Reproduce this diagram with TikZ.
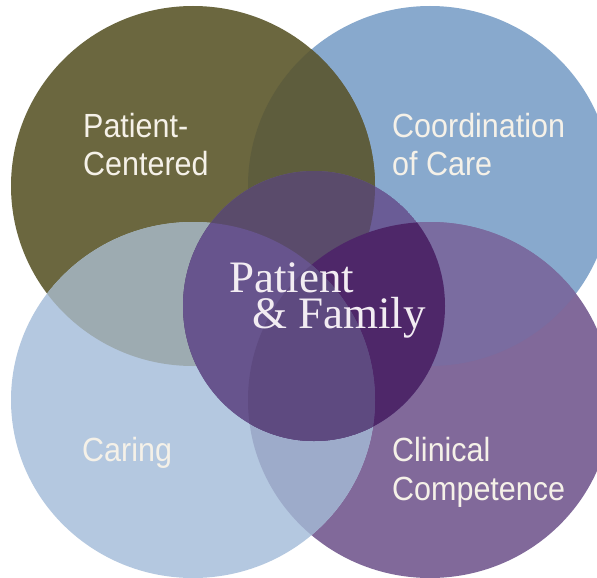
\documentclass[tikz,border=0pt]{standalone}
\usepackage{fontspec}
\setmainfont{Liberation Serif}
\newfontfamily\lblfont[FakeStretch=0.91]{Liberation Sans}
\usetikzlibrary{positioning}

% ring colours and their overlaps
\definecolor{cBlue}{HTML}{88A9CD}
\definecolor{cOlive}{HTML}{6B673F}
\definecolor{cOliveBlue}{HTML}{5E5D3D}
\definecolor{cPlum}{HTML}{81699A}
\definecolor{cBluePlum}{HTML}{7A6CA0}
\definecolor{cSky}{HTML}{B4C8E0}
\definecolor{cOliveSky}{HTML}{9DABB1}
\definecolor{cSkyPlum}{HTML}{9DABCA}
\definecolor{cCoreBlue}{HTML}{6A5C96}
\definecolor{cCoreOlive}{HTML}{5A4B6B}
\definecolor{cCorePlum}{HTML}{4E2769}
\definecolor{cCoreSky}{HTML}{67548D}
\definecolor{cCoreSkyPlum}{HTML}{5E4A80}
\definecolor{cText}{HTML}{F5F1E8}
\definecolor{cCoreText}{HTML}{F2ECF2}

\newcommand{\pOlive}{(193,186) ellipse [x radius=182, y radius=180]}
\newcommand{\pBlue}{(430,186) ellipse [x radius=182, y radius=180]}
\newcommand{\pSky}{(193,400) ellipse [x radius=182, y radius=178]}
\newcommand{\pPlum}{(430,400) ellipse [x radius=182, y radius=178]}
\newcommand{\pCore}{(314,306) ellipse [x radius=131, y radius=135]}

\tikzset{
  lbl/.style={font=\lblfont\fontsize{33.5}{38}\selectfont, text=cText, inner sep=0pt, anchor=base west},
  ctr/.style={font=\fontsize{45}{36}\selectfont, text=cCoreText, inner sep=0pt, anchor=base west, align=left},
}

\begin{document}
\begin{tikzpicture}[x=1pt, y=-1pt]
  \useasboundingbox (0,0) rectangle (597,578);
  \fill[white] (0,0) rectangle (597,578);

  \begin{scope}
    \clip (0,0) rectangle (597,578);
    % --- outer rings ---
    \fill[cBlue] \pBlue;
    \fill[cOlive] \pOlive;
    \begin{scope} \clip \pOlive; \fill[cOliveBlue] \pBlue; \end{scope}
    \fill[cPlum] \pPlum;
    \begin{scope} \clip \pBlue; \fill[cBluePlum] \pPlum; \end{scope}
    \fill[cSky] \pSky;
    \begin{scope} \clip \pOlive; \fill[cOliveSky] \pSky; \end{scope}
    \begin{scope} \clip \pPlum; \fill[cSkyPlum] \pSky; \end{scope}

    % --- centre disc ---
    \begin{scope}
      \clip \pCore;
      \fill[cCoreBlue] \pCore;
      \fill[cCoreOlive] \pOlive;
      \fill[cCorePlum] \pPlum;
      \fill[cCoreSky] \pSky;
      \clip \pSky;
      \fill[cCoreSkyPlum] \pPlum;
    \end{scope}
  \end{scope}

  % labels
  \node[lbl] (pc1) at (83,137) {Patient-};
  \node[lbl] (pc2) at (83,175) {Centered};
  \node[lbl] (cc1) at (392,137) {Coordination};
  \node[lbl] (cc2) at (392,175) {of Care};
  \node[lbl] (car) at (82,461) {Caring};
  \node[lbl] (cl1) at (392,461) {Clinical};
  \node[lbl] (cl2) at (392,500) {Competence};

  % base anchor sits on the second line
  \node[ctr] (pf) at (229,328) {Patient\\\hspace*{23pt}\&~Family};
\end{tikzpicture}
\end{document}
